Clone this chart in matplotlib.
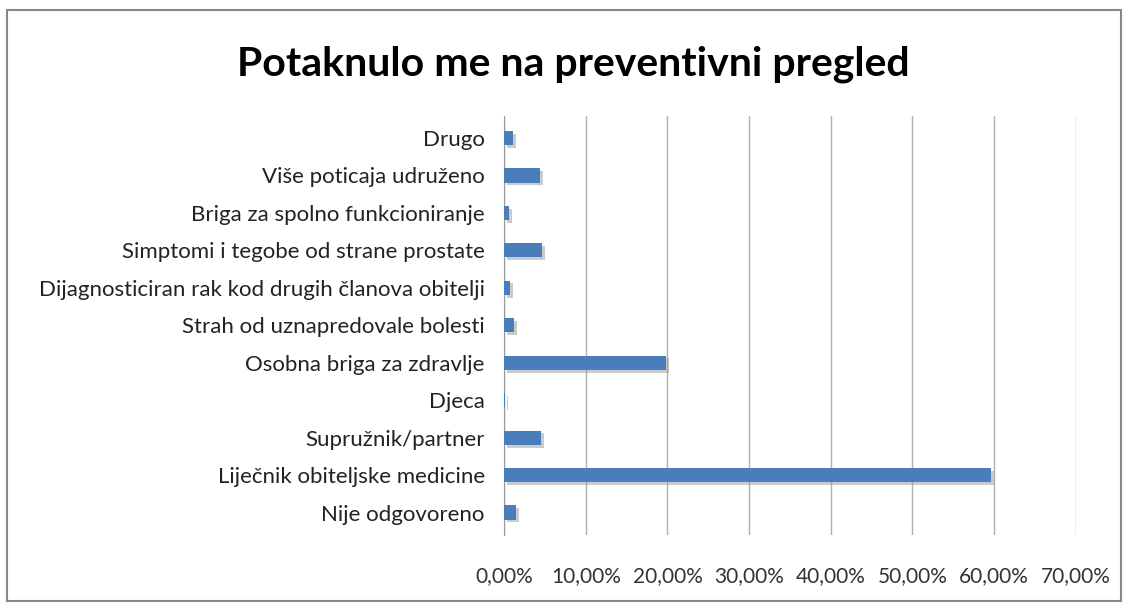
import matplotlib.pyplot as plt
import matplotlib.patheffects as pe
from matplotlib.patches import Rectangle
from matplotlib.ticker import FuncFormatter

# Podaci (odozdo prema gore)
kategorije = ["Nije odgovoreno", "Liječnik obiteljske medicine", "Supružnik/partner",
              "Djeca", "Osobna briga za zdravlje", "Strah od uznapredovale bolesti",
              "Dijagnosticiran rak kod drugih članova obitelji",
              "Simptomi i tegobe od strane prostate", "Briga za spolno funkcioniranje",
              "Više poticaja udruženo", "Drugo"]
postotci = [1.5, 59.6, 4.5, 0.1, 19.8, 1.2, 0.7, 4.6, 0.6, 4.4, 1.1]

plt.rcParams['font.family'] = ['Lato', 'DejaVu Sans']

fig = plt.figure(figsize=(11.28, 6.08), dpi=100)
fig.patches.append(Rectangle((0.006, 0.012), 0.988, 0.972, transform=fig.transFigure,
                             fill=False, edgecolor="#888888", linewidth=1.5))
ax = fig.add_axes([0.447, 0.12, 0.507, 0.69])

bars = ax.barh(range(len(kategorije)), postotci, height=0.38, color="#4a7ebb", zorder=3)
for b in bars:
    b.set_path_effects([pe.SimplePatchShadow(offset=(2, -2), shadow_rgbFace="#999999", alpha=0.5),
                        pe.Normal()])

ax.set_xlim(0, 70.05)
ax.set_ylim(-0.6, len(kategorije) - 0.4)
ax.set_xticks(range(0, 71, 10))
ax.xaxis.set_major_formatter(FuncFormatter(lambda v, p: f"{v:.2f}%".replace(".", ",")))
ax.set_yticks(range(len(kategorije)))
ax.set_yticklabels(kategorije)
ax.tick_params(axis="y", length=0, labelsize=16, pad=14, colors="#222222")
ax.tick_params(axis="x", length=0, labelsize=15, pad=22, colors="#333333")
ax.grid(axis="x", color="#b0b0b0", linewidth=1, zorder=0)
for s in ["top", "right", "bottom"]:
    ax.spines[s].set_visible(False)
ax.spines["left"].set_color("#999999")

fig.suptitle("Potaknulo me na preventivni pregled", fontsize=29.5, fontweight="bold",
             y=0.925, x=0.508)
plt.savefig("out.png", dpi=100)
